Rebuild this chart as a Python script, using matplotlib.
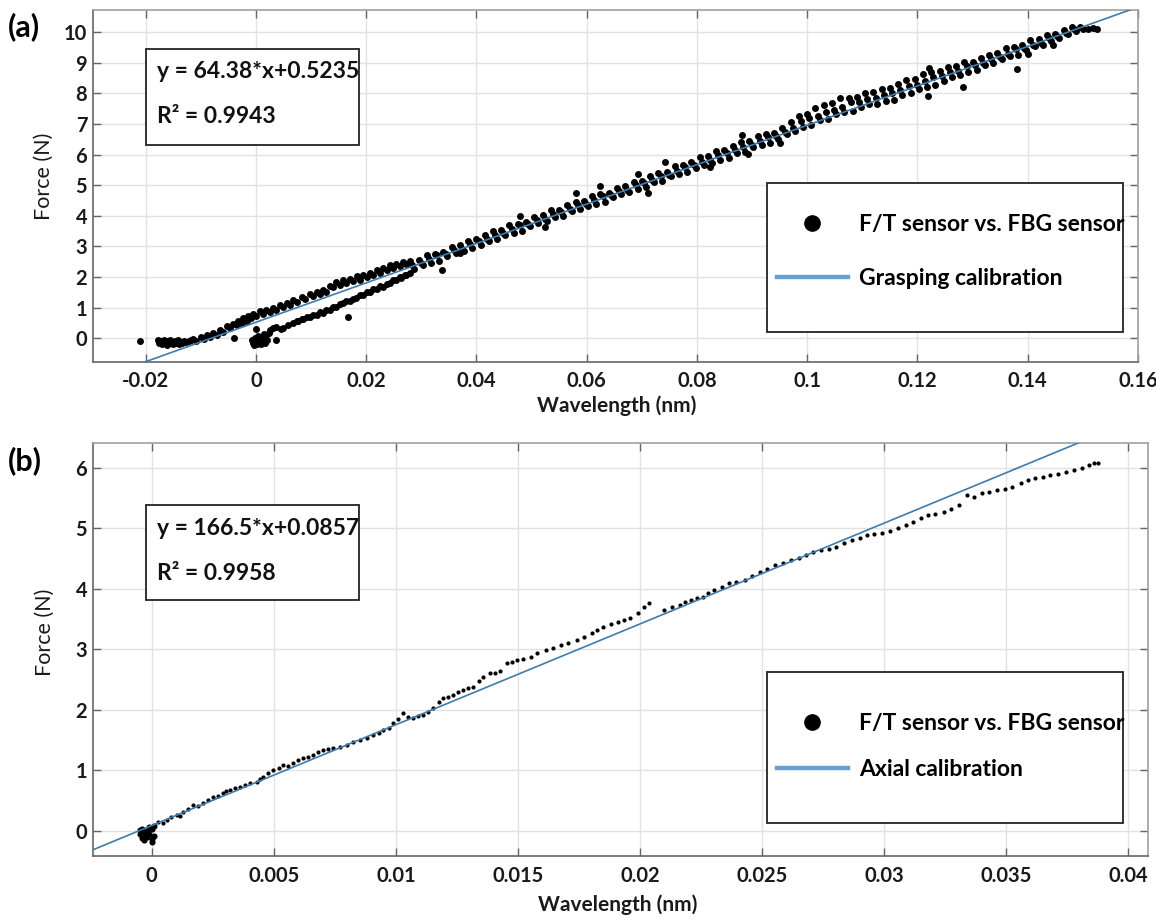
import matplotlib
matplotlib.use('Agg')
import matplotlib.pyplot as plt
from matplotlib.patches import Rectangle
from matplotlib.lines import Line2D

plt.rcParams['font.family'] = ['Lato', 'DejaVu Sans']

# ---------------- Panel (a) data : grasping calibration ----------------
a_slope, a_intercept = 64.38, 0.5235
a_eq_text = "y = 64.38*x+0.5235"
a_r2_text = "R² = 0.9943"

a_cluster_x = [-0.0210, -0.0178, -0.0176, -0.0172, -0.0170, -0.0167, -0.0165, -0.0162, -0.0160,
               -0.0157, -0.0155, -0.0152, -0.0150, -0.0147, -0.0145, -0.0142, -0.0140, -0.0137,
               -0.0134, -0.0131, -0.0127, -0.0122, -0.0118,
               -0.0007, -0.0005, -0.0003, -0.0002, 0.0000, 0.0002, 0.0004, 0.0005, 0.0007,
               0.0009, 0.0010, 0.0012, 0.0014, 0.0016, 0.0017, 0.0019, 0.0021, 0.0023]
a_cluster_y = [-0.09, -0.05, -0.15, -0.10, -0.20, -0.06, -0.13, -0.22, -0.08,
               -0.16, -0.04, -0.12, -0.20, -0.09, -0.14, -0.06, -0.18, -0.11,
               -0.15, -0.08, -0.12, -0.10, -0.07,
               -0.05, -0.15, -0.22, 0.02, -0.10, -0.18, 0.08, -0.03, -0.13,
               -0.20, 0.04, -0.07, 0.13, -0.15, 0.00, 0.10, -0.05, 0.18]

a_upper_low_x = [-0.0114, -0.0100, -0.0089, -0.0077, -0.0065, -0.0053, -0.0041, -0.0032, -0.0023,
                 -0.0014, -0.0005, 0.0007, 0.0019, 0.0031, 0.0044, 0.0056, 0.0068, 0.0083, 0.0098,
                 0.0110, 0.0122, 0.0134, 0.0146, 0.0158, 0.0170, 0.0183, 0.0195, 0.0207, 0.0219,
                 0.0231, 0.0243, 0.0255, 0.0267,
                 -0.0108, -0.0094, -0.0083, -0.0071, -0.0059, -0.0047, -0.0035, -0.0026, -0.0017,
                 -0.0008, 0.0001, 0.0013, 0.0025, 0.0037, 0.0050, 0.0062, 0.0074, 0.0089, 0.0104,
                 0.0116, 0.0128, 0.0140, 0.0152, 0.0164, 0.0176, 0.0189, 0.0201, 0.0213, 0.0225,
                 0.0237, 0.0249, 0.0261, 0.0273]
a_upper_low_y = [-0.02, 0.05, 0.11, 0.17, 0.27, 0.39, 0.47, 0.57, 0.66,
                 0.72, 0.81, 0.88, 0.91, 1.00, 1.09, 1.15, 1.25, 1.36, 1.45,
                 1.52, 1.59, 1.70, 1.84, 1.90, 1.94, 2.02, 2.06, 2.15, 2.22,
                 2.31, 2.40, 2.44, 2.50,
                 -0.08, -0.02, 0.04, 0.12, 0.21, 0.32, 0.42, 0.50, 0.58,
                 0.67, 0.73, 0.79, 0.86, 0.93, 1.02, 1.10, 1.18, 1.29, 1.38,
                 1.44, 1.52, 1.66, 1.74, 1.80, 1.86, 1.92, 1.99, 2.07, 2.14,
                 2.22, 2.30, 2.37, 2.43]

a_lower_low_x = [0.0025, 0.0031, 0.0037, 0.0045, 0.0050, 0.0058, 0.0068, 0.0077, 0.0086, 0.0098,
                 0.0110, 0.0122, 0.0134, 0.0146, 0.0158, 0.0170, 0.0182, 0.0195, 0.0207, 0.0219,
                 0.0231, 0.0243, 0.0255, 0.0264, 0.0273,
                 0.0074, 0.0083, 0.0092, 0.0104, 0.0116, 0.0128, 0.0140, 0.0152, 0.0164, 0.0176,
                 0.0188, 0.0201, 0.0213, 0.0225, 0.0237, 0.0249, 0.0261, 0.0270, 0.0279]
a_lower_low_y = [0.27, 0.33, 0.38, 0.30, 0.33, 0.42, 0.49, 0.55, 0.62, 0.69,
                 0.76, 0.84, 0.93, 1.03, 1.14, 1.22, 1.31, 1.42, 1.52, 1.60,
                 1.69, 1.80, 1.91, 1.98, 2.07,
                 0.58, 0.63, 0.70, 0.77, 0.85, 0.92, 1.01, 1.12, 1.22, 1.30,
                 1.40, 1.50, 1.61, 1.70, 1.78, 1.90, 2.00, 2.07, 2.14]

a_band_up_x = [0.0280, 0.0295, 0.0310, 0.0325, 0.0340, 0.0355, 0.0370, 0.0385, 0.0400, 0.0415,
               0.0430, 0.0445, 0.0460, 0.0475, 0.0490, 0.0505, 0.0520, 0.0535, 0.0550, 0.0565,
               0.0580, 0.0595, 0.0610, 0.0625, 0.0640, 0.0655, 0.0670, 0.0685, 0.0700, 0.0715,
               0.0730, 0.0745, 0.0760, 0.0775, 0.0790, 0.0805, 0.0820, 0.0835, 0.0850, 0.0865,
               0.0880, 0.0895, 0.0910, 0.0925, 0.0940, 0.0955, 0.0970, 0.0985, 0.1000, 0.1015,
               0.1030, 0.1045, 0.1060, 0.1075, 0.1090, 0.1105, 0.1120, 0.1135, 0.1150, 0.1165,
               0.1180, 0.1195, 0.1210, 0.1225, 0.1240, 0.1255, 0.1270, 0.1285, 0.1300, 0.1315,
               0.1330, 0.1345, 0.1360, 0.1375, 0.1390, 0.1405, 0.1420, 0.1435, 0.1450, 0.1465,
               0.1480, 0.1495]
a_band_up_y = [2.51, 2.55, 2.72, 2.77, 2.82, 2.98, 3.05, 3.19, 3.24, 3.38,
               3.49, 3.54, 3.71, 3.75, 3.81, 3.96, 4.03, 4.18, 4.20, 4.34,
               4.46, 4.48, 4.65, 4.70, 4.75, 4.91, 4.98, 5.12, 5.15, 5.29,
               5.40, 5.45, 5.62, 5.66, 5.75, 5.91, 5.97, 6.12, 6.15, 6.28,
               6.40, 6.45, 6.61, 6.66, 6.72, 6.87, 7.06, 7.25, 7.33, 7.52,
               7.63, 7.68, 7.85, 7.86, 7.90, 8.01, 8.04, 8.15, 8.18, 8.31,
               8.43, 8.48, 8.64, 8.69, 8.75, 8.87, 8.91, 9.04, 9.04, 9.15,
               9.27, 9.31, 9.48, 9.53, 9.58, 9.74, 9.78, 9.92, 9.93, 10.06,
               10.16, 10.18]

a_band_mid_x = [0.0284, 0.0299, 0.0314, 0.0329, 0.0344, 0.0359, 0.0374, 0.0389, 0.0404, 0.0419,
                0.0434, 0.0449, 0.0464, 0.0479, 0.0494, 0.0509, 0.0524, 0.0539, 0.0554, 0.0569,
                0.0584, 0.0599, 0.0614, 0.0629, 0.0644, 0.0659, 0.0674, 0.0689, 0.0704, 0.0719,
                0.0734, 0.0749, 0.0764, 0.0779, 0.0794, 0.0809, 0.0824, 0.0839, 0.0854, 0.0869,
                0.0884, 0.0899, 0.0914, 0.0929, 0.0944, 0.0959, 0.0974, 0.0989, 0.1004, 0.1019,
                0.1034, 0.1049, 0.1064, 0.1079, 0.1094, 0.1109, 0.1124, 0.1139, 0.1154, 0.1169,
                0.1184, 0.1199, 0.1214, 0.1229, 0.1244, 0.1259, 0.1274, 0.1289, 0.1304, 0.1319,
                0.1334, 0.1349, 0.1364, 0.1379, 0.1394, 0.1409, 0.1424, 0.1439, 0.1454, 0.1469,
                0.1484]
a_band_mid_y = [2.40, 2.45, 2.58, 2.71, 2.75, 2.88, 2.92, 3.09, 3.18, 3.26,
                3.39, 3.43, 3.56, 3.70, 3.73, 3.86, 3.91, 4.07, 4.14, 4.23,
                4.35, 4.38, 4.51, 4.64, 4.68, 4.81, 4.85, 5.02, 5.09, 5.17,
                5.30, 5.35, 5.47, 5.61, 5.65, 5.77, 5.82, 5.99, 6.05, 6.14,
                6.26, 6.31, 6.44, 6.57, 6.61, 6.74, 6.87, 7.10, 7.19, 7.27,
                7.40, 7.45, 7.57, 7.71, 7.73, 7.82, 7.84, 7.96, 8.02, 8.11,
                8.24, 8.28, 8.41, 8.55, 8.58, 8.71, 8.74, 8.89, 8.94, 9.01,
                9.13, 9.18, 9.30, 9.44, 9.48, 9.60, 9.65, 9.82, 9.88, 9.97,
                10.10]

a_band_lo_x = [0.02875, 0.03025, 0.03175, 0.03325, 0.03475, 0.03625, 0.03775, 0.03925, 0.04075,
               0.04225, 0.04375, 0.04525, 0.04675, 0.04825, 0.04975, 0.05125, 0.05275, 0.05425,
               0.05575, 0.05725, 0.05875, 0.06025, 0.06175, 0.06325, 0.06475, 0.06625, 0.06775,
               0.06925, 0.07075, 0.07225, 0.07375, 0.07525, 0.07675, 0.07825, 0.07975, 0.08125,
               0.08275, 0.08425, 0.08575, 0.08725, 0.08875, 0.09025, 0.09175, 0.09325, 0.09475,
               0.09625, 0.09775, 0.09925, 0.10075, 0.10225, 0.10375, 0.10525, 0.10675, 0.10825,
               0.10975, 0.11125, 0.11275, 0.11425, 0.11575, 0.11725, 0.11875, 0.12025, 0.12175,
               0.12325, 0.12475, 0.12625, 0.12775, 0.12925, 0.13075, 0.13225, 0.13375, 0.13525,
               0.13675, 0.13825, 0.13975, 0.14125, 0.14275, 0.14425, 0.14575, 0.14725, 0.14875,
               0.1500, 0.1510, 0.1518, 0.1525]
a_band_lo_y = [2.25, 2.40, 2.47, 2.52, 2.68, 2.80, 2.84, 2.96, 3.04,
               3.18, 3.24, 3.39, 3.45, 3.51, 3.67, 3.78, 3.83, 3.95,
               4.00, 4.15, 4.21, 4.33, 4.40, 4.46, 4.61, 4.73, 4.78,
               4.89, 4.95, 5.10, 5.15, 5.30, 5.36, 5.42, 5.56, 5.67,
               5.72, 5.84, 5.89, 6.04, 6.10, 6.24, 6.31, 6.37, 6.52,
               6.66, 6.76, 6.90, 6.98, 7.13, 7.18, 7.33, 7.40, 7.43,
               7.56, 7.65, 7.67, 7.74, 7.80, 7.94, 8.00, 8.14, 8.21,
               8.27, 8.42, 8.54, 8.59, 8.70, 8.76, 8.94, 8.99, 9.14,
               9.21, 9.26, 9.42, 9.54, 9.60, 9.72, 9.80, 9.96, 10.03,
               10.12, 10.10, 10.13, 10.11]

a_outlier_x = [-0.0040, 0.0001, 0.0037, 0.0167, 0.0337, 0.0370, 0.0479, 0.0524, 0.0581, 0.0624,
               0.0711, 0.0693, 0.0742, 0.0823, 0.0881, 0.0893, 0.0950, 0.1221, 0.1283, 0.1219,
               0.1380, 0.1400, 0.1445]
a_outlier_y = [0.00, 0.29, -0.06, 0.69, 2.23, 2.78, 4.00, 3.63, 4.76, 4.98,
               4.76, 5.36, 5.77, 5.61, 6.64, 6.01, 6.39, 8.82, 8.22, 7.92,
               8.80, 9.28, 9.58]

a_xticks = [-0.02, 0, 0.02, 0.04, 0.06, 0.08, 0.1, 0.12, 0.14, 0.16]
a_xticklabels = ["-0.02", "0", "0.02", "0.04", "0.06", "0.08", "0.1", "0.12", "0.14", "0.16"]
a_yticks = [0, 1, 2, 3, 4, 5, 6, 7, 8, 9, 10]
a_labels = ["F/T sensor vs. FBG sensor", "Grasping calibration"]

# ---------------- Panel (b) data : axial calibration ----------------
b_slope, b_intercept = 166.5, 0.0857
b_eq_text = "y = 166.5*x+0.0857"
b_r2_text = "R² = 0.9958"

b_cluster_x = [-0.0005, -0.0004, -0.0004, -0.0003, -0.0003, -0.0002, -0.0002, -0.0001, -0.0001,
               0.0000, 0.0000, 0.0001, 0.0001, -0.0005, 0.0000, -0.0003]
b_cluster_y = [-0.05, -0.12, 0.03, -0.08, -0.15, 0.00, -0.10, 0.06, -0.05,
               -0.13, 0.02, -0.08, 0.08, 0.01, -0.18, -0.03]

b_x = [0.00027, 0.00045, 0.00061, 0.00080, 0.00102, 0.00115, 0.00129, 0.00150, 0.00170, 0.00190,
       0.00211, 0.00230, 0.00252, 0.00270, 0.00293, 0.00305, 0.00321, 0.00340, 0.00362, 0.00380,
       0.00403, 0.00430, 0.00445, 0.00457, 0.00475, 0.00498, 0.00520, 0.00539, 0.00560, 0.00580,
       0.00600, 0.00621, 0.00640, 0.00662, 0.00680, 0.00703, 0.00720, 0.00744, 0.00770, 0.00798,
       0.00825, 0.00853, 0.00880, 0.00907, 0.00930, 0.00948, 0.00970, 0.00989, 0.01010, 0.01030,
       0.01050, 0.01071, 0.01090, 0.01112, 0.01130, 0.01153, 0.01175, 0.01194, 0.01215, 0.01235,
       0.01255, 0.01276, 0.01296, 0.01317, 0.01340, 0.01358, 0.01385, 0.01405, 0.01426, 0.01454,
       0.01475, 0.01495, 0.01520, 0.01552, 0.01580, 0.01614, 0.01645, 0.01677, 0.01705, 0.01740,
       0.01770, 0.01802, 0.01825, 0.01849, 0.01880, 0.01912, 0.01935, 0.01959, 0.01990, 0.02015,
       0.02038, 0.02100, 0.02130, 0.02163, 0.02185, 0.02210, 0.02235, 0.02257, 0.02280, 0.02304,
       0.02335, 0.02366, 0.02395, 0.02429, 0.02460, 0.02492, 0.02520, 0.02554, 0.02585, 0.02617,
       0.02650, 0.02680, 0.02710, 0.02743, 0.02775, 0.02805, 0.02835, 0.02868, 0.02900, 0.02931,
       0.02960, 0.02993, 0.03025, 0.03056, 0.03090, 0.03119, 0.03150, 0.03181, 0.03210, 0.03244,
       0.03275, 0.03307, 0.03338, 0.03370, 0.03401, 0.03430, 0.03464, 0.03495, 0.03526, 0.03560,
       0.03589, 0.03620, 0.03651, 0.03680, 0.03714, 0.03745, 0.03777, 0.03810, 0.03840, 0.03860,
       0.03875]
b_y = [0.149, 0.12, 0.177, 0.22, 0.259, 0.24, 0.314, 0.35, 0.424, 0.40,
       0.452, 0.50, 0.562, 0.58, 0.617, 0.66, 0.672, 0.70, 0.727, 0.76,
       0.782, 0.81, 0.86, 0.892, 0.95, 1.002, 1.04, 1.085, 1.07, 1.113,
       1.16, 1.195, 1.21, 1.25, 1.30, 1.333, 1.35, 1.36, 1.39, 1.415,
       1.46, 1.498, 1.53, 1.58, 1.62, 1.663, 1.70, 1.773, 1.85, 1.938,
       1.88, 1.856, 1.89, 1.91, 1.96, 2.02, 2.12, 2.186, 2.21, 2.24,
       2.29, 2.32, 2.35, 2.378, 2.48, 2.543, 2.60, 2.61, 2.64, 2.764,
       2.79, 2.818, 2.84, 2.874, 2.93, 2.984, 3.02, 3.066, 3.10, 3.149,
       3.20, 3.26, 3.31, 3.37, 3.41, 3.45, 3.48, 3.507, 3.60, 3.70,
       3.755, 3.644, 3.69, 3.727, 3.77, 3.81, 3.84, 3.864, 3.92, 3.975,
       4.03, 4.085, 4.11, 4.14, 4.21, 4.277, 4.33, 4.387, 4.43, 4.47,
       4.51, 4.553, 4.60, 4.635, 4.66, 4.69, 4.75, 4.80, 4.84, 4.883,
       4.90, 4.911, 4.95, 4.993, 5.05, 5.103, 5.16, 5.213, 5.24, 5.268,
       5.32, 5.378, 5.543, 5.52, 5.571, 5.60, 5.626, 5.65, 5.68, 5.74,
       5.79, 5.82, 5.846, 5.87, 5.90, 5.93, 5.956, 6.00, 6.04, 6.07,
       6.08]

b_xticks = [0, 0.005, 0.01, 0.015, 0.02, 0.025, 0.03, 0.035, 0.04]
b_xticklabels = ["0", "0.005", "0.01", "0.015", "0.02", "0.025", "0.03", "0.035", "0.04"]
b_yticks = [0, 1, 2, 3, 4, 5, 6]
b_labels = ["F/T sensor vs. FBG sensor", "Axial calibration"]

# ---------------- styling constants ----------------
FIT_COLOR = '#3f7cab'
LEG_LINE_COLOR = '#6a9fcf'
GRID_COLOR = '#e2e2e2'

fig = plt.figure(figsize=(11.56, 9.22), dpi=100)
axa = fig.add_axes([0.0802, 0.6077, 0.9042, 0.3815])
axb = fig.add_axes([0.0802, 0.0716, 0.9126, 0.4476])


def style(ax, xlim, ylim, xticks, xticklabels, yticks):
    ax.set_xlim(*xlim)
    ax.set_ylim(*ylim)
    ax.set_xticks(xticks)
    ax.set_xticklabels(xticklabels)
    ax.set_yticks(yticks)
    ax.set_yticklabels([str(v) for v in yticks])
    ax.grid(True, color=GRID_COLOR, lw=1.0)
    ax.set_axisbelow(True)
    ax.tick_params(direction='in', length=6, width=1, colors='#666666',
                   top=True, right=True, labelsize=14.5, labelcolor='#1a1a1a')
    ax.tick_params(axis='x', pad=7)
    ax.tick_params(axis='y', pad=4)
    for lab in ax.get_xticklabels() + ax.get_yticklabels():
        lab.set_fontweight('bold')
    for s in ['left', 'bottom']:
        ax.spines[s].set_color('#666666')
        ax.spines[s].set_linewidth(1.2)
    for s in ['top', 'right']:
        ax.spines[s].set_color('#a0a0a0')
        ax.spines[s].set_linewidth(1.2)
    ax.set_xlabel('Wavelength (nm)', fontsize=15, fontweight='bold', color='#1a1a1a')
    ax.set_ylabel('Force (N)', fontsize=15.5, color='#1a1a1a')


def add_box_texts(ax, box, eq, r2, tx, ty1, ty2):
    x0, y0, x1, y1 = box
    ax.add_patch(Rectangle((x0, y0), x1 - x0, y1 - y0, transform=ax.transAxes,
                           facecolor='white', edgecolor='#222222', lw=1.3, zorder=6))
    ax.text(tx, ty1, eq, transform=ax.transAxes, fontsize=16.5, fontweight='bold',
            ha='left', va='center', zorder=7, color='#111111')
    ax.text(tx, ty2, r2, transform=ax.transAxes, fontsize=16.5, fontweight='bold',
            ha='left', va='center', zorder=7, color='#111111')


def add_legend(ax, box, anchor, labels, spacing):
    x0, y0, x1, y1 = box
    ax.add_patch(Rectangle((x0, y0), x1 - x0, y1 - y0, transform=ax.transAxes,
                           facecolor='white', edgecolor='#222222', lw=1.3, zorder=6))
    handles = [Line2D([], [], marker='o', ls='none', color='black', markersize=11),
               Line2D([], [], color=LEG_LINE_COLOR, lw=3.2)]
    leg = ax.legend(handles, labels, loc='upper left', bbox_to_anchor=anchor,
                    frameon=False, prop={'family': ['Lato', 'DejaVu Sans'], 'weight': 'bold', 'size': 16.5},
                    handlelength=3.1, handletextpad=0.5, labelspacing=spacing,
                    borderpad=0, borderaxespad=0)
    leg.set_zorder(8)


# ---------------- Panel (a) ----------------
a_all_x = (a_cluster_x + a_upper_low_x + a_lower_low_x + a_band_up_x + a_band_mid_x
           + a_band_lo_x + a_outlier_x)
a_all_y = (a_cluster_y + a_upper_low_y + a_lower_low_y + a_band_up_y + a_band_mid_y
           + a_band_lo_y + a_outlier_y)
axa.plot(a_all_x, a_all_y, 'o', color='black', markersize=5.0, markeredgewidth=0, zorder=2)
a_lim_x = [-0.0296, 0.16]
axa.plot(a_lim_x, [a_slope * v + a_intercept for v in a_lim_x], color=FIT_COLOR, lw=1.2, zorder=3)
style(axa, a_lim_x, (-0.765, 10.73), a_xticks, a_xticklabels, a_yticks)
axa.xaxis.set_label_coords(0.5016, -0.095)
axa.yaxis.set_label_coords(-0.037, 0.528)
add_box_texts(axa, (0.0507, 0.6161, 0.2551, 0.8883), a_eq_text, a_r2_text, 0.0612, 0.8246, 0.6966)
add_legend(axa, (0.6448, 0.0853, 0.9859, 0.509), (0.6544, 0.42), a_labels, 1.45)

# ---------------- Panel (b) ----------------
axb.plot(b_cluster_x, b_cluster_y, 'o', color='black', markersize=4.4, markeredgewidth=0, zorder=2)
axb.plot(b_x, b_y, 'o', color='black', markersize=3.0, markeredgewidth=0, zorder=2)
b_lim_x = [-0.00242, 0.0408]
axb.plot(b_lim_x, [b_slope * v + b_intercept for v in b_lim_x], color=FIT_COLOR, lw=1.2, zorder=3)
style(axb, b_lim_x, (-0.418, 6.40), b_xticks, b_xticklabels, b_yticks)
axb.xaxis.set_label_coords(0.4975, -0.093)
axb.yaxis.set_label_coords(-0.0357, 0.543)
add_box_texts(axb, (0.0502, 0.6203, 0.2527, 0.8505), b_eq_text, b_r2_text, 0.0606, 0.7940, 0.6850)
add_legend(axb, (0.6394, 0.0807, 0.9769, 0.4466), (0.6483, 0.346), b_labels, 1.1)

fig.text(8 / 1156, 1 - 27 / 922, '(a)', fontsize=22, fontweight='bold', ha='left', va='center')
fig.text(8 / 1156, 1 - 461 / 922, '(b)', fontsize=22, fontweight='bold', ha='left', va='center')

fig.savefig('out.png', dpi=100)
